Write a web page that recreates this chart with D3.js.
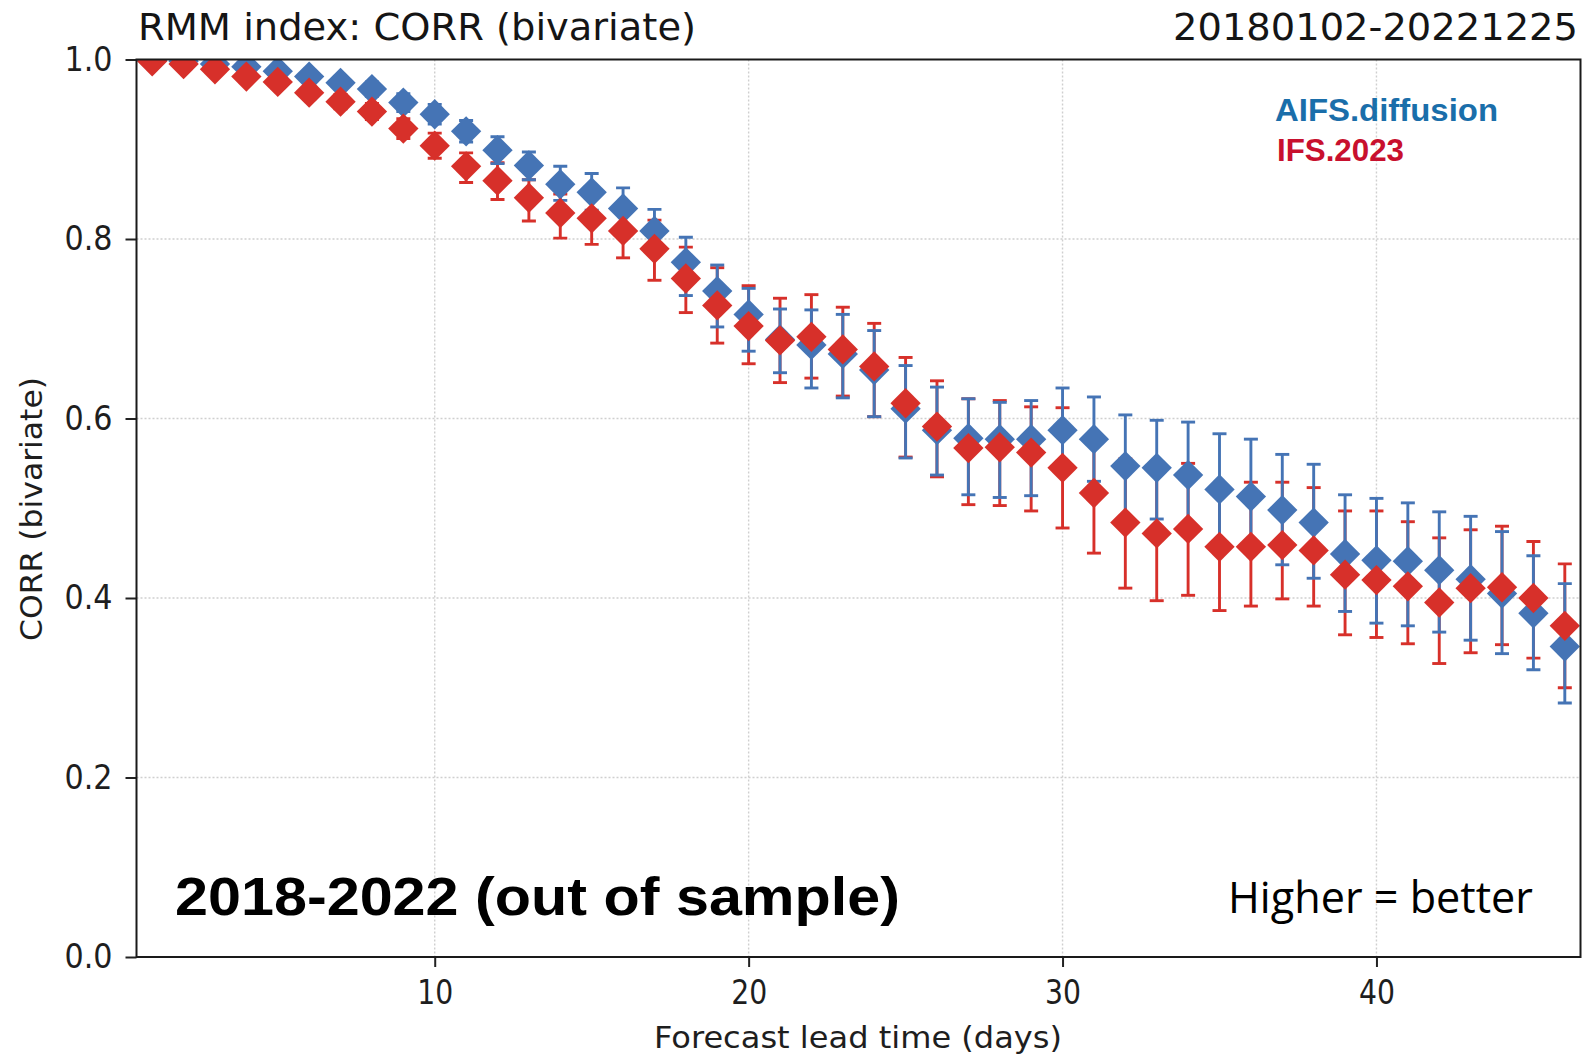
<!DOCTYPE html>
<html>
<head>
<meta charset="utf-8">
<script src="https://cdn.jsdelivr.net/npm/d3@7"></script>
<style>
  html, body { margin: 0; padding: 0; background: #ffffff; }
  svg { display: block; }
</style>
</head>
<body>
<svg id="chart" width="1586" height="1057"></svg>
<script>
// Forecast lead time (days)
const leadDays = [1, 2, 3, 4, 5, 6, 7, 8, 9, 10, 11, 12, 13, 14, 15, 16, 17, 18, 19, 20, 21, 22, 23,
                  24, 25, 26, 27, 28, 29, 30, 31, 32, 33, 34, 35, 36, 37, 38, 39, 40, 41, 42, 43, 44, 45, 46];

// AIFS.diffusion: bivariate RMM correlation and its confidence interval
const aifsCorr = [0.999, 0.998, 0.995, 0.992, 0.987, 0.981, 0.974, 0.967, 0.952, 0.939, 0.920, 0.899,
                  0.882, 0.861, 0.852, 0.834, 0.809, 0.774, 0.742, 0.716, 0.688, 0.682, 0.672, 0.654,
                  0.611, 0.587, 0.578, 0.577, 0.577, 0.587, 0.577, 0.547, 0.545, 0.537, 0.521, 0.513,
                  0.498, 0.484, 0.449, 0.442, 0.441, 0.431, 0.421, 0.405, 0.383, 0.346];
const aifsLow  = [0.997, 0.995, 0.991, 0.987, 0.981, 0.975, 0.967, 0.959, 0.942, 0.928, 0.908, 0.884,
                  0.866, 0.843, 0.832, 0.810, 0.785, 0.737, 0.702, 0.675, 0.651, 0.634, 0.623, 0.602,
                  0.556, 0.537, 0.515, 0.512, 0.514, 0.540, 0.530, 0.490, 0.488, 0.480, 0.460, 0.450,
                  0.437, 0.422, 0.385, 0.372, 0.369, 0.362, 0.353, 0.338, 0.320, 0.283];
const aifsHigh = [1.000, 1.000, 0.998, 0.996, 0.992, 0.987, 0.981, 0.975, 0.962, 0.950, 0.932, 0.914,
                  0.897, 0.881, 0.873, 0.857, 0.833, 0.802, 0.771, 0.745, 0.722, 0.721, 0.716, 0.698,
                  0.659, 0.635, 0.622, 0.618, 0.620, 0.634, 0.624, 0.604, 0.598, 0.596, 0.583, 0.577,
                  0.560, 0.549, 0.515, 0.511, 0.506, 0.496, 0.491, 0.474, 0.447, 0.416];

// IFS.2023: bivariate RMM correlation and its confidence interval
const ifsCorr = [0.998, 0.995, 0.989, 0.981, 0.975, 0.963, 0.953, 0.942, 0.923, 0.904, 0.881, 0.865,
                 0.846, 0.829, 0.823, 0.809, 0.789, 0.756, 0.726, 0.703, 0.687, 0.691, 0.677, 0.658,
                 0.617, 0.591, 0.567, 0.568, 0.562, 0.545, 0.517, 0.484, 0.472, 0.477, 0.457, 0.457,
                 0.459, 0.453, 0.426, 0.420, 0.413, 0.395, 0.411, 0.412, 0.400, 0.369];
const ifsLow  = [0.995, 0.991, 0.985, 0.976, 0.968, 0.956, 0.945, 0.933, 0.912, 0.890, 0.863, 0.844,
                 0.820, 0.801, 0.794, 0.779, 0.754, 0.718, 0.684, 0.661, 0.640, 0.645, 0.625, 0.602,
                 0.557, 0.535, 0.504, 0.503, 0.497, 0.478, 0.450, 0.411, 0.397, 0.403, 0.386, 0.391,
                 0.399, 0.391, 0.359, 0.356, 0.349, 0.327, 0.339, 0.348, 0.333, 0.300];
const ifsHigh = [0.999, 0.997, 0.993, 0.986, 0.980, 0.970, 0.961, 0.951, 0.934, 0.918, 0.896, 0.885,
                 0.866, 0.850, 0.846, 0.830, 0.821, 0.791, 0.768, 0.748, 0.734, 0.738, 0.724, 0.706,
                 0.668, 0.642, 0.622, 0.620, 0.613, 0.612, 0.583, 0.555, 0.546, 0.550, 0.527, 0.529,
                 0.529, 0.523, 0.497, 0.497, 0.485, 0.467, 0.476, 0.480, 0.463, 0.438];

const xTickValues = [10, 20, 30, 40];
const yTickValues = [0.0, 0.2, 0.4, 0.6, 0.8, 1.0];
const yGridValues = [0.2, 0.4, 0.6, 0.8];
const seriesNames = ["AIFS.diffusion", "IFS.2023"];

// ---- layout -------------------------------------------------------------
const frame = { left: 136.5, right: 1580.5, top: 59.5, bottom: 957 };
const x = d3.scaleLinear().domain([0.5, 46.5]).range([frame.left, frame.right]);
const y = d3.scaleLinear().domain([0, 1]).range([frame.bottom, frame.top]);

const colours = {
  aifs: "#4574b5", ifs: "#d7302a",
  aifsText: "#1a6eaa", ifsText: "#c8102e"
};

const svg = d3.select("#chart");
svg.append("rect").attr("width", 1586).attr("height", 1057).attr("fill", "#ffffff");

const fit = (sel, w) => sel.attr("textLength", w).attr("lengthAdjust", "spacingAndGlyphs");

svg.append("defs").append("clipPath").attr("id", "plot-clip")
  .append("rect")
  .attr("x", frame.left).attr("y", frame.top)
  .attr("width", frame.right - frame.left).attr("height", frame.bottom - frame.top);

// ---- grid ---------------------------------------------------------------
const grid = svg.append("g").attr("stroke", "#cfcfcf").attr("stroke-width", 1.4)
  .attr("stroke-dasharray", "2,2");
grid.selectAll("line.gx").data(xTickValues).join("line").attr("class", "gx")
  .attr("x1", d => x(d)).attr("x2", d => x(d))
  .attr("y1", frame.top).attr("y2", frame.bottom);
grid.selectAll("line.gy").data(yGridValues).join("line").attr("class", "gy")
  .attr("x1", frame.left).attr("x2", frame.right)
  .attr("y1", d => y(d)).attr("y2", d => y(d));

// ---- error bars and markers ----------------------------------------------
const series = [
  { key: "aifs", mean: aifsCorr, low: aifsLow, high: aifsHigh, colour: colours.aifs },
  { key: "ifs",  mean: ifsCorr,  low: ifsLow,  high: ifsHigh,  colour: colours.ifs }
];
const rows = s => leadDays.map((d, i) => ({ day: d, mean: s.mean[i], low: s.low[i], high: s.high[i] }));

const plotArea = svg.append("g").attr("clip-path", "url(#plot-clip)");
const capHalf = 7;

function drawBars(s) {
  const g = plotArea.append("g").attr("class", "bars-" + s.key)
    .attr("stroke", s.colour).attr("stroke-width", 2.9);
  const data = rows(s);
  g.selectAll("line.bar").data(data).join("line").attr("class", "bar")
    .attr("x1", d => x(d.day)).attr("x2", d => x(d.day))
    .attr("y1", d => y(d.low)).attr("y2", d => y(d.high));
  g.selectAll("line.cap-lo").data(data).join("line").attr("class", "cap-lo")
    .attr("x1", d => x(d.day) - capHalf).attr("x2", d => x(d.day) + capHalf)
    .attr("y1", d => y(d.low)).attr("y2", d => y(d.low));
  g.selectAll("line.cap-hi").data(data).join("line").attr("class", "cap-hi")
    .attr("x1", d => x(d.day) - capHalf).attr("x2", d => x(d.day) + capHalf)
    .attr("y1", d => y(d.high)).attr("y2", d => y(d.high));
}

const diamond = d3.symbol().type(d3.symbolSquare).size(460);
function drawMarkers(s) {
  plotArea.append("g").attr("class", "markers-" + s.key)
    .selectAll("path").data(rows(s)).join("path")
    .attr("d", diamond)
    .attr("transform", d => `translate(${x(d.day)},${y(d.mean)}) rotate(45)`)
    .attr("fill", s.colour);
}

drawBars(series[1]);
drawBars(series[0]);
drawMarkers(series[0]);
drawMarkers(series[1]);

// ---- axes ---------------------------------------------------------------
const xAxis = svg.append("g").attr("transform", `translate(0,${frame.bottom})`)
  .call(d3.axisBottom(x).tickValues(xTickValues).tickSize(10).tickPadding(14).tickFormat(d3.format("d")));
const yAxis = svg.append("g").attr("transform", `translate(${frame.left},0)`)
  .call(d3.axisLeft(y).tickValues(yTickValues).tickSize(11).tickPadding(13).tickFormat(d3.format(".1f")));

[xAxis, yAxis].forEach(a => {
  a.select(".domain").remove();
  a.selectAll(".tick line").attr("stroke", "#222").attr("stroke-width", 2);
  a.selectAll(".tick text").attr("fill", "#1e1e1e")
    .attr("font-family", "DejaVu Sans, sans-serif").attr("font-size", 33);
});
xAxis.selectAll(".tick text").each(function () { fit(d3.select(this), 36); });
yAxis.selectAll(".tick text").each(function () { fit(d3.select(this), 48); });

// frame around the plotting area
svg.append("rect")
  .attr("x", frame.left).attr("y", frame.top)
  .attr("width", frame.right - frame.left).attr("height", frame.bottom - frame.top)
  .attr("fill", "none").attr("stroke", "#1a1a1a").attr("stroke-width", 2);

// ---- titles and labels -----------------------------------------------------
const dejavu = "DejaVu Sans, sans-serif";
svg.append("text").attr("x", 138).attr("y", 40)
  .attr("font-family", dejavu).attr("font-size", 38).attr("fill", "#151515")
  .text("RMM index: CORR (bivariate)").call(fit, 558);
svg.append("text").attr("x", 1578).attr("y", 40).attr("text-anchor", "end")
  .attr("font-family", dejavu).attr("font-size", 38).attr("fill", "#151515")
  .text("20180102-20221225").call(fit, 405);

svg.append("text").attr("x", 858).attr("y", 1048).attr("text-anchor", "middle")
  .attr("font-family", dejavu).attr("font-size", 30).attr("fill", "#1e1e1e")
  .text("Forecast lead time (days)").call(fit, 408);
svg.append("text").attr("transform", "translate(42,509) rotate(-90)").attr("text-anchor", "middle")
  .attr("font-family", dejavu).attr("font-size", 30).attr("fill", "#1e1e1e")
  .text("CORR (bivariate)").call(fit, 264);

// series legend
const legendFont = "Liberation Sans, Arial, sans-serif";
svg.append("text").attr("x", 1275).attr("y", 121)
  .attr("font-family", legendFont).attr("font-weight", "bold").attr("font-size", 31)
  .attr("fill", colours.aifsText).text(seriesNames[0]).call(fit, 223);
svg.append("text").attr("x", 1277).attr("y", 161)
  .attr("font-family", legendFont).attr("font-weight", "bold").attr("font-size", 31)
  .attr("fill", colours.ifsText).text(seriesNames[1]).call(fit, 127);

// annotations
svg.append("text").attr("x", 175).attr("y", 915)
  .attr("font-family", legendFont).attr("font-weight", "bold").attr("font-size", 54)
  .attr("fill", "#000000").text("2018-2022 (out of sample)").call(fit, 725);
svg.append("text").attr("x", 1228).attr("y", 913)
  .attr("font-family", "Open Sans, sans-serif").attr("font-size", 43)
  .attr("fill", "#000000").text("Higher = better").call(fit, 305);
</script>
</body>
</html>
